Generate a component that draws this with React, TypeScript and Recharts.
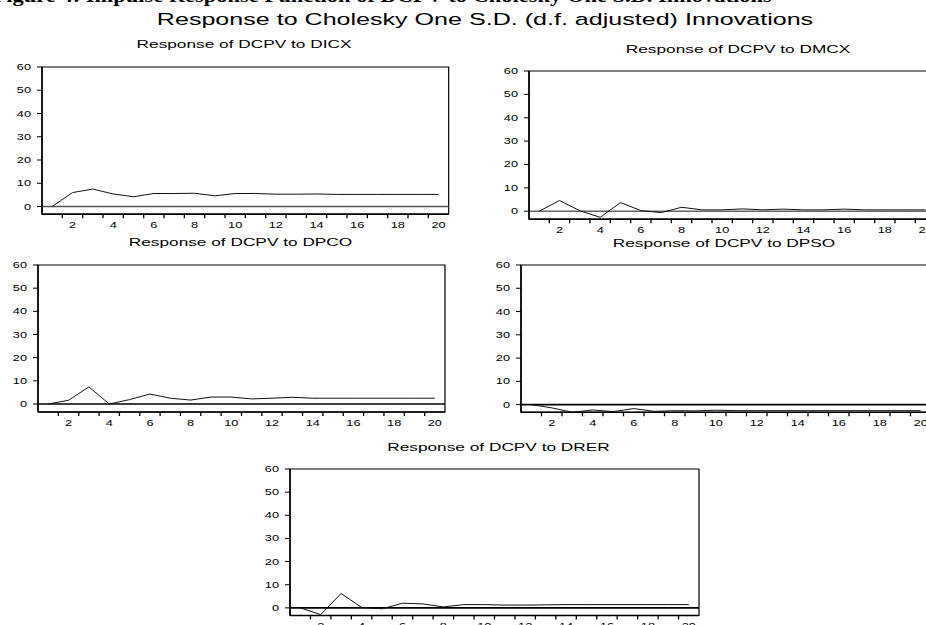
import React from 'react';
import { LineChart, Line, XAxis, YAxis, ReferenceLine, ReferenceArea } from 'recharts';

// horizons 1..20
const periods = [1, 2, 3, 4, 5, 6, 7, 8, 9, 10, 11, 12, 13, 14, 15, 16, 17, 18, 19, 20];

// responses of DCPV
const dicx = [0, 6.0, 7.5, 5.4, 4.2, 5.6, 5.6, 5.7, 4.6, 5.6, 5.6, 5.3, 5.3, 5.4, 5.2, 5.2, 5.2, 5.2, 5.2, 5.2];
const dmcx = [0, 4.6, 0.2, -2.6, 3.7, 0.3, -0.6, 1.7, 0.6, 0.6, 1.0, 0.6, 0.9, 0.6, 0.6, 0.9, 0.6, 0.6, 0.6, 0.6];
const dpco = [0, 1.6, 7.4, 0, 1.9, 4.3, 2.5, 1.7, 3.0, 3.0, 2.2, 2.5, 2.9, 2.5, 2.5, 2.5, 2.5, 2.5, 2.5, 2.5];
const dpso = [0, -1.4, -3.3, -2.3, -3.0, -1.7, -2.9, -2.6, -2.7, -2.4, -2.6, -2.6, -2.6, -2.6, -2.6, -2.6, -2.6, -2.6, -2.6, -2.6];
const drer = [0, -2.9, 6.2, 0.2, -0.4, 2.0, 1.7, 0.4, 1.4, 1.4, 1.2, 1.2, 1.3, 1.4, 1.4, 1.4, 1.4, 1.4, 1.4, 1.4];

const yTicks = [0, 10, 20, 30, 40, 50, 60];
const yMins = [-3.3, -3.4, -3.45, -3.3, -3.3];

const mainTitle = 'Response to Cholesky One S.D. (d.f. adjusted) Innovations';
const topCaption = 'Figure 4: Impulse Response Function of DCPV to Cholesky One S.D. Innovations';
const panelTitles = [
  'Response of DCPV to DICX',
  'Response of DCPV to DMCX',
  'Response of DCPV to DPCO',
  'Response of DCPV to DPSO',
  'Response of DCPV to DRER',
];
const series = [dicx, dmcx, dpco, dpso, drer];

// plot boxes in page pixels: left, top, right, bottom, plus title centre/baseline
const layout = [
  { l: 42.3, t: 66.5, r: 449, b: 213.7, tx: 244, ty: 47.7, zero: '#555' },
  { l: 529.3, t: 70.5, r: 936, b: 218.7, tx: 738, ty: 53.3, zero: '#666' },
  { l: 37.5, t: 265, r: 444.5, b: 412, tx: 240.5, ty: 246, zero: '#000' },
  { l: 521, t: 265, r: 931, b: 412.3, tx: 724, ty: 246.5, zero: '#000' },
  { l: 290.3, t: 469, r: 699.3, b: 615.5, tx: 498.5, ty: 450.7, zero: '#000' },
];

const FONT = '"Liberation Sans", Arial, sans-serif';
const SX = 1.5;
const Y_AXIS_W = 45;
const X_AXIS_H = 20;
const PAD_TOP = 8;
const PAD_RIGHT = 3;

const boundaries = periods.slice(0, -1).map((p) => p + 0.5);
const xTicks = [...boundaries, ...periods.filter((p) => p % 2 === 0)].sort((a, b) => a - b);

const XTick = (props: any) => {
  const { x, y, payload } = props;
  const v = payload.value;
  if (Number.isInteger(v)) {
    return (
      <text transform={`translate(${x},${y + 13.5}) scale(${SX},1)`} textAnchor="middle" fontSize={8.5} fontFamily={FONT} fill="#000">
        {v}
      </text>
    );
  }
  return <line x1={x} x2={x} y1={y} y2={y + 4} stroke="#000" strokeWidth={1.3} />;
};

const YTick = (props: any) => {
  const { x, y, payload } = props;
  return (
    <g>
      <line x1={x - 5} x2={x} y1={y} y2={y} stroke="#000" strokeWidth={1} />
      <text transform={`translate(${x - 11},${y + 3}) scale(${SX},1)`} textAnchor="end" fontSize={8.5} fontFamily={FONT} fill="#000">
        {payload.value}
      </text>
    </g>
  );
};

function Panel({ index }: { index: number }) {
  const box = layout[index];
  const values = series[index];
  const data = periods.map((p, i) => ({ period: p, value: values[i] }));
  const w = box.r - box.l + Y_AXIS_W + PAD_RIGHT;
  const h = box.b - box.t + PAD_TOP + X_AXIS_H;
  const yMin = yMins[index];
  return (
    <div style={{ position: 'absolute', left: box.l - Y_AXIS_W, top: box.t - PAD_TOP }}>
      <LineChart width={w} height={h} data={data} margin={{ top: PAD_TOP, right: PAD_RIGHT, left: 0, bottom: 0 }}>
        <XAxis
          dataKey="period"
          type="number"
          domain={[0.5, 20.5]}
          ticks={xTicks}
          interval={0}
          tick={<XTick />}
          tickLine={false}
          tickSize={0}
          tickMargin={0}
          height={X_AXIS_H}
          axisLine={{ stroke: '#000', strokeWidth: 1.5 }}
        />
        <YAxis
          type="number"
          domain={[yMin, 60]}
          ticks={yTicks}
          interval={0}
          tick={<YTick />}
          tickLine={false}
          tickSize={0}
          tickMargin={0}
          width={Y_AXIS_W}
          axisLine={{ stroke: '#000', strokeWidth: 1.5 }}
        />
        <ReferenceArea x1={0.5} x2={20.5} y1={yMin} y2={60} fill="none" stroke="#000" strokeWidth={1.2} />
        <ReferenceLine y={0} stroke={box.zero} strokeWidth={1.6} />
        <Line
          type="linear"
          dataKey="value"
          stroke="#111"
          strokeWidth={1}
          dot={false}
          isAnimationActive={false}
        />
      </LineChart>
    </div>
  );
}

export default function App() {
  return (
    <div style={{ position: 'absolute', left: 0, top: 0, width: 926, height: 625, overflow: 'hidden', background: '#fff' }}>
      {layout.map((_, i) => (
        <Panel key={i} index={i} />
      ))}
      <svg width={926} height={625} style={{ position: 'absolute', left: 0, top: 0, pointerEvents: 'none' }}>
        <text x={-6} y={1.5} fontSize={18} fontWeight="bold" fontFamily='"Liberation Serif", "Times New Roman", serif' fill="#000" transform="scale(1.25,1)">
          {topCaption}
        </text>
        <text transform={`translate(485,25) scale(1.52,1)`} textAnchor="middle" fontSize={16.5} fontFamily={FONT} fill="#000">
          {mainTitle}
        </text>
        {layout.map((box, i) => (
          <text key={i} transform={`translate(${box.tx},${box.ty}) scale(1.57,1)`} textAnchor="middle" fontSize={11} fontFamily={FONT} fill="#000">
            {panelTitles[i]}
          </text>
        ))}
      </svg>
    </div>
  );
}
